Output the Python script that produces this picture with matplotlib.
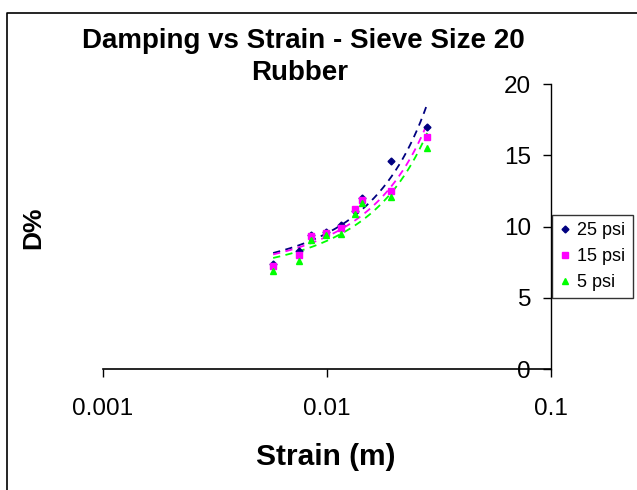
import matplotlib
matplotlib.use('Agg')
import matplotlib.pyplot as plt
from matplotlib.lines import Line2D
import numpy as np

plt.rcParams['font.family'] = ['Liberation Sans', 'DejaVu Sans']

# data
strain = [0.00576, 0.00754, 0.00852, 0.00995, 0.01157, 0.01343, 0.01436, 0.0194, 0.0281]
d_25psi = [7.4, 8.3, 9.4, 9.6, 10.1, 11.1, 12.0, 14.6, 17.0]
d_15psi = [7.2, 8.0, 9.3, 9.55, 9.9, 11.2, 11.85, 12.5, 16.3]
d_5psi = [6.9, 7.6, 9.05, 9.4, 9.5, 10.9, 11.65, 12.1, 15.5]
labels = ['25 psi', '15 psi', '5 psi']
x_ticks = [0.001, 0.01, 0.1]
x_ticklabels = ['0.001', '0.01', '0.1']
y_ticks = [0, 5, 10, 15, 20]

series = [(d_25psi, '#000080', 'D', 3.5),
          (d_15psi, '#FF00FF', 's', 4.2),
          (d_5psi, '#00FF00', '^', 5.0)]

fig = plt.figure(figsize=(6.37, 4.90), dpi=100)
ax = fig.add_axes([103/637, 1 - 369/490, 447.5/637, 285/490])

x = np.array(strain)
handles = []
for (vals, col, mk, ms), lab in zip(series, labels):
    y = np.array(vals)
    # exponential trendline, like the spreadsheet default
    b, lna = np.polyfit(x, np.log(y), 1)
    xf = np.linspace(x.min(), x.max(), 200)
    ax.plot(xf, np.exp(lna) * np.exp(b * xf), color=col, lw=1.3,
            dashes=(4, 3), zorder=2)
    h, = ax.plot(x, y, linestyle='none', marker=mk, ms=ms, color=col,
                 mec=col, zorder=3, label=lab)
    handles.append(h)

ax.set_xscale('log')
ax.set_xlim(0.001, 0.1)
ax.set_ylim(0, 20)
ax.set_xticks(x_ticks)
ax.set_xticklabels(x_ticklabels)
ax.xaxis.set_minor_locator(matplotlib.ticker.NullLocator())
ax.set_yticks(y_ticks)

ax.spines['top'].set_visible(False)
ax.spines['right'].set_visible(False)
ax.spines['left'].set_position(('data', 0.1))
ax.spines['left'].set_linewidth(1.0)
ax.spines['bottom'].set_linewidth(1.2)
ax.tick_params(axis='x', direction='out', length=6, width=1.0, pad=15, labelsize=17.5)
ax.tick_params(axis='y', direction='out', length=6, width=1.0, pad=8, labelsize=17.5)
ax.patch.set_alpha(0)

fig.text(303/637, 1 - 48/490, 'Damping vs Strain - Sieve Size 20',
         ha='center', va='baseline', fontsize=20, fontweight='bold')
fig.text(300/637, 1 - 80/490, 'Rubber',
         ha='center', va='baseline', fontsize=20, fontweight='bold')
fig.text(33/637, 1 - 228/490, 'D%', rotation=90, ha='center', va='center',
         fontsize=19, fontweight='bold')
fig.text(326/637, 1 - 457/490, 'Strain (m)', ha='center', va='center',
         fontsize=21.5, fontweight='bold')

leg = fig.legend(handles=handles, loc='upper left',
                 bbox_to_anchor=(552/637, 1 - 215/490), fontsize=13,
                 frameon=True, fancybox=False, edgecolor='black',
                 handlelength=0.6, handletextpad=0.4, labelspacing=0.5,
                 borderpad=0.4, borderaxespad=0)
leg.get_frame().set_linewidth(1.0)

# chart area border (left and top edges visible)
fig.add_artist(Line2D([7/637, 7/637, 1.0], [0.0, 1 - 13/490, 1 - 13/490],
                      transform=fig.transFigure, color='black', lw=1.2))

fig.savefig('out.png', dpi=100)
